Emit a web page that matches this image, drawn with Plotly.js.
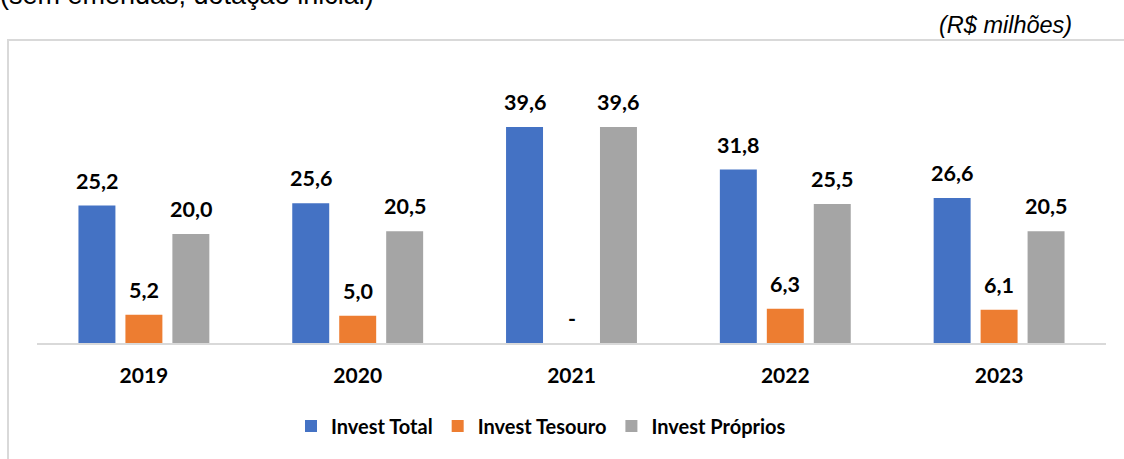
<!DOCTYPE html>
<html>
<head>
<meta charset="utf-8">
<script src="https://cdn.plot.ly/plotly-3.0.1.min.js"></script>
<style>html,body{margin:0;padding:0;background:#fff;}#chart{width:1124px;height:459px;}</style>
</head>
<body>
<div id="chart"></div>
<script>
const years = ["2019", "2020", "2021", "2022", "2023"];
const seriesNames = ["Invest Total", "Invest Tesouro", "Invest Próprios"];
const investTotal = [25.2, 25.6, 39.6, 31.8, 26.6];
const investTesouro = [5.2, 5.0, 0, 6.3, 6.1];
const investProprios = [20.0, 20.5, 39.6, 25.5, 20.5];
const colors = ["#4472C4", "#ED7D31", "#A5A5A5"];
const subtitleText = "(sem emendas; dotação inicial)";
const unitText = "(R$ milhões)";

const series = [investTotal, investTesouro, investProprios];
const W = 1124, H = 459;
const mL = 37, mR = 18, mT = 60, mB = 116;
const plotW = W - mL - mR, plotH = H - mT - mB;
const pxPerUnit = 5.455;
const yMax = plotH / pxPerUnit;
const bargap = 0.341;
const slot = (1 - bargap) / 3;
const labelFont = {family: "Lato, 'Open Sans', sans-serif", size: 21.5, color: "#000"};
const fmt = v => v === 0 ? "-" : v.toFixed(1).replace(".", ",");

const traces = series.map((vals, i) => ({
  type: "bar",
  name: seriesNames[i],
  x: years,
  y: vals,
  marker: {color: colors[i]},
  hoverinfo: "skip"
}));

const annotations = [];
series.forEach((vals, i) => {
  vals.forEach((v, j) => {
    annotations.push({
      xref: "x", yref: "y",
      x: j + (i - 1) * slot, y: v,
      text: "<b>" + fmt(v) + "</b>",
      showarrow: false, yanchor: "middle", xanchor: "center",
      yshift: 25,
      font: labelFont
    });
  });
});
const px2paperX = p => (p - mL) / plotW;
const px2paperY = p => 1 + (mT - p) / plotH;
annotations.push({
  xref: "paper", yref: "paper",
  x: px2paperX(-2), y: px2paperY(-5),
  xanchor: "left", yanchor: "middle",
  text: subtitleText, showarrow: false,
  font: {family: "Liberation Sans, Arial, sans-serif", size: 27, color: "#000"}
});
annotations.push({
  xref: "paper", yref: "paper",
  x: px2paperX(1074), y: px2paperY(25),
  xanchor: "right", yanchor: "middle",
  text: "<i>" + unitText + "</i>", showarrow: false,
  font: {family: "Liberation Sans, Arial, sans-serif", size: 23.5, color: "#000"}
});

const layout = {
  width: W, height: H,
  margin: {l: mL, r: mR, t: mT, b: mB, pad: 0},
  paper_bgcolor: "#fff", plot_bgcolor: "#fff",
  barmode: "group",
  bargap: bargap,
  bargroupgap: 0.213,
  showlegend: true,
  legend: {
    orientation: "h",
    x: px2paperX(291), xanchor: "left",
    y: px2paperY(426), yanchor: "middle",
    font: {family: "Lato, 'Open Sans', sans-serif", size: 20, color: "#000", weight: "bold"},
    itemclick: false, itemdoubleclick: false
  },
  xaxis: {
    type: "category",
    showline: true, linecolor: "#d9d9d9", linewidth: 2,
    showgrid: false, zeroline: false, ticks: "",
    tickfont: {family: "Lato, 'Open Sans', sans-serif", size: 21, color: "#000", weight: "bold"},
    ticklabelstandoff: 13,
    fixedrange: true
  },
  yaxis: {
    range: [0, yMax], visible: false, showgrid: false, zeroline: false, fixedrange: true
  },
  annotations: annotations,
  shapes: [{
    type: "rect", xref: "paper", yref: "paper",
    x0: px2paperX(8), x1: px2paperX(1140),
    y0: px2paperY(480), y1: px2paperY(40),
    line: {color: "#d9d9d9", width: 2}, fillcolor: "rgba(0,0,0,0)", layer: "below"
  }]
};

Plotly.newPlot("chart", traces, layout, {displayModeBar: false, staticPlot: true});
</script>
</body>
</html>
